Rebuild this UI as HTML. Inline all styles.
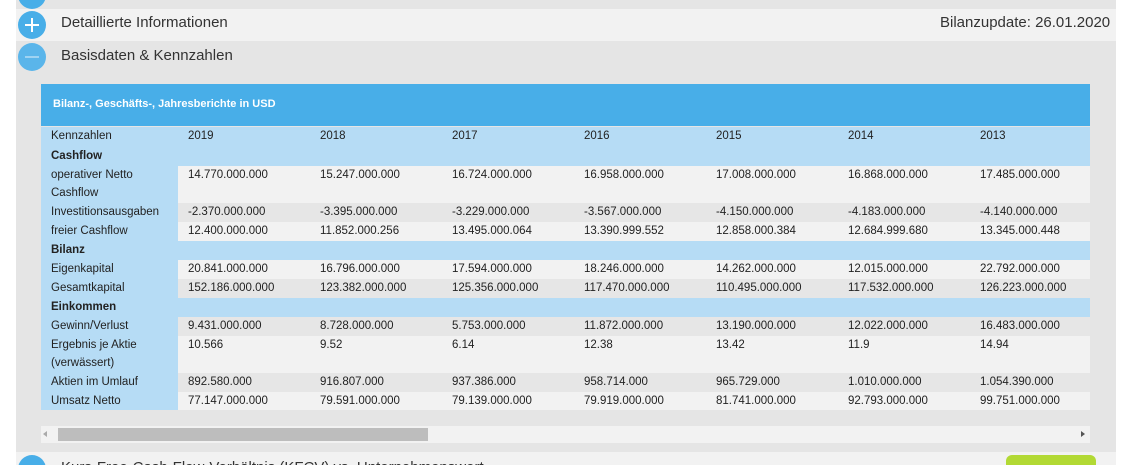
<!DOCTYPE html>
<html><head><meta charset="utf-8"><style>
*{margin:0;padding:0;box-sizing:border-box}
html,body{width:1133px;height:465px;overflow:hidden}
body{background:#fff;font-family:"Liberation Sans",sans-serif;position:relative;color:#222}
.a{position:absolute}
.circ{position:absolute;width:28px;height:28px;border-radius:50%;background:#48aee8}
.t{position:absolute;font-size:11.5px;white-space:nowrap}
</style></head><body>
<div class="a" style="left:16px;top:0;width:1100px;height:465px;background:#e5e5e5"></div>
<div class="circ" style="left:18px;top:-19px"></div>
<div class="a" style="left:16px;top:9px;width:1100px;height:32px;background:#f2f2f2"></div>
<div class="circ" style="left:18px;top:11px"></div>
<div class="a" style="left:25px;top:24px;width:14px;height:2px;background:#fff"></div>
<div class="a" style="left:31px;top:18px;width:2px;height:14px;background:#fff"></div>
<div class="a" style="left:61px;top:14px;font-size:15px;color:#333">Detaillierte Informationen</div>
<div class="a" style="left:940px;top:14px;font-size:15px;color:#333">Bilanzupdate: 26.01.2020</div>
<div class="circ" style="left:18px;top:43px;background:#5ab5ea"></div>
<div class="a" style="left:25px;top:56px;width:14px;height:2px;background:#9fd3f2"></div>
<div class="a" style="left:61px;top:47px;font-size:15px;color:#333">Basisdaten &amp; Kennzahlen</div>
<div class="a" style="left:41px;top:84px;width:1049px;height:42px;background:#48aee8"></div>
<div class="a" style="left:53px;top:98px;font-size:11px;font-weight:bold;color:#fff">Bilanz-, Geschäfts-, Jahresberichte in USD</div>
<div id="tb"></div>
<div class="a" style="left:41px;top:426px;width:1049px;height:17px;background:#f2f2f2"></div>
<div class="a" style="left:58px;top:428px;width:370px;height:13px;background:#bdbdbd"></div>
<div class="a" style="left:43px;top:431px;width:0;height:0;border-top:3px solid transparent;border-bottom:3px solid transparent;border-right:4px solid #aaa"></div>
<div class="a" style="left:1081px;top:431px;width:0;height:0;border-top:3px solid transparent;border-bottom:3px solid transparent;border-left:4px solid #555"></div>
<div class="a" style="left:16px;top:452px;width:1100px;height:13px;background:#f2f2f2"></div>
<div class="circ" style="left:18px;top:455px"></div>
<div class="a" style="left:61px;top:459px;font-size:15px;color:#333">Kurs-Free-Cash-Flow-Verhältnis (KFCV) vs. Unternehmenswert</div>
<div class="a" style="left:1006px;top:455px;width:90px;height:20px;border-radius:6px;background:#b2d934"></div>
<script>
var rows=[
["h","Kennzahlen",["2019","2018","2017","2016","2015","2014","2013"],127,20],
["s","Cashflow",null,147,19],
["l","operativer Netto<br>Cashflow",["14.770.000.000","15.247.000.000","16.724.000.000","16.958.000.000","17.008.000.000","16.868.000.000","17.485.000.000"],166,37],
["d","Investitionsausgaben",["-2.370.000.000","-3.395.000.000","-3.229.000.000","-3.567.000.000","-4.150.000.000","-4.183.000.000","-4.140.000.000"],203,19],
["l","freier Cashflow",["12.400.000.000","11.852.000.256","13.495.000.064","13.390.999.552","12.858.000.384","12.684.999.680","13.345.000.448"],222,19],
["s","Bilanz",null,241,19],
["l","Eigenkapital",["20.841.000.000","16.796.000.000","17.594.000.000","18.246.000.000","14.262.000.000","12.015.000.000","22.792.000.000"],260,19],
["d","Gesamtkapital",["152.186.000.000","123.382.000.000","125.356.000.000","117.470.000.000","110.495.000.000","117.532.000.000","126.223.000.000"],279,19],
["s","Einkommen",null,298,19],
["d","Gewinn/Verlust",["9.431.000.000","8.728.000.000","5.753.000.000","11.872.000.000","13.190.000.000","12.022.000.000","16.483.000.000"],317,19],
["l","Ergebnis je Aktie<br>(verwässert)",["10.566","9.52","6.14","12.38","13.42","11.9","14.94"],336,37],
["d","Aktien im Umlauf",["892.580.000","916.807.000","937.386.000","958.714.000","965.729.000","1.010.000.000","1.054.390.000"],373,19],
["l","Umsatz Netto",["77.147.000.000","79.591.000.000","79.139.000.000","79.919.000.000","81.741.000.000","92.793.000.000","99.751.000.000"],392,18]];
var h="";
rows.forEach(function(r){
 var t=r[0],y=r[3],hh=r[4];
 if(t=="h"||t=="s"){h+='<div class="a" style="left:41px;top:'+y+'px;width:1049px;height:'+hh+'px;background:#b6dcf5"></div>';}
 else{h+='<div class="a" style="left:41px;top:'+y+'px;width:137px;height:'+hh+'px;background:#b6dcf5"></div>';
 h+='<div class="a" style="left:178px;top:'+y+'px;width:912px;height:'+hh+'px;background:'+(t=="l"?"#f2f2f2":"#e6e6e6")+'"></div>';}
 h+='<div class="t" style="left:51px;top:'+y+'px;line-height:18px;'+(t=="s"?"font-weight:bold;":"")+'">'+r[1]+'</div>';
 if(r[2])r[2].forEach(function(v,i){h+='<div class="t" style="left:'+(188+132*i)+'px;top:'+(y+2)+'px;line-height:14px">'+v+'</div>';});
});
document.getElementById("tb").outerHTML=h;
</script>
</body></html>
